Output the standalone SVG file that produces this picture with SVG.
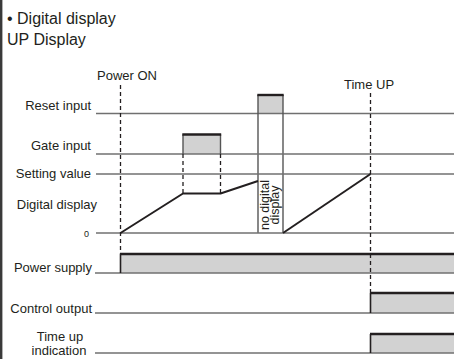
<svg xmlns="http://www.w3.org/2000/svg" width="454" height="359" viewBox="0 0 454 359">
<style>
text{font-family:"Liberation Sans",Arial,sans-serif;fill:#231f20}
.t{font-size:16px}
.l{font-size:13px;text-anchor:end}
.g{stroke:#707070;stroke-width:1.4;fill:none}
.gs{stroke:#555;stroke-width:1.4;fill:none}
.d{stroke:#231f20;stroke-width:1.3;stroke-dasharray:4 3;fill:none}
.top{stroke:#231f20;stroke-width:2.4;fill:none}
.fill{fill:#d2d2d2;stroke:none}
.tr{stroke:#231f20;stroke-width:2;fill:none;stroke-linejoin:round}
</style>
<rect x="0" y="0" width="454" height="359" fill="#fff"/>
<line x1="1.2" y1="0" x2="1.2" y2="359" stroke="#3a3a3a" stroke-width="2.4"/>
<g id="title">
<text class="t" x="7" y="24">• Digital display</text>
<text class="t" x="7" y="44.5">UP Display</text>
</g>
<g id="markers">
<text x="97" y="80" font-size="13">Power ON</text>
<text x="344" y="89" font-size="13">Time UP</text>
</g>
<g id="labels">
<text class="l" x="91" y="110">Reset input</text>
<text class="l" x="91" y="150">Gate input</text>
<text class="l" x="91" y="178">Setting value</text>
<text class="l" x="97" y="209">Digital display</text>
<text x="89" y="236.5" font-size="9" text-anchor="end">0</text>
<text class="l" x="92" y="272">Power supply</text>
<text class="l" x="92" y="313">Control output</text>
<text x="60" y="341" font-size="13" text-anchor="middle">Time up</text>
<text x="59" y="355" font-size="13" text-anchor="middle">indication</text>
</g>
<g id="reset-input">
<rect class="fill" x="258" y="95" width="25" height="18.5"/>
<line class="g" x1="96" y1="113.5" x2="454" y2="113.5"/>
<line class="gs" x1="258" y1="95" x2="258" y2="233"/>
<line class="gs" x1="283" y1="95" x2="283" y2="233"/>
<line class="top" x1="257.3" y1="95" x2="283.7" y2="95"/>
</g>
<g id="gate-input">
<rect class="fill" x="183" y="134.5" width="37.5" height="19.5"/>
<line class="g" x1="96" y1="154" x2="454" y2="154"/>
<line class="gs" x1="183" y1="134.5" x2="183" y2="154"/>
<line class="gs" x1="220.5" y1="134.5" x2="220.5" y2="154"/>
<line class="top" x1="182.3" y1="134.5" x2="221.2" y2="134.5"/>
</g>
<g id="setting-value">
<line class="g" x1="96" y1="174" x2="454" y2="174"/>
</g>
<g id="zero-line">
<line class="g" x1="96" y1="233" x2="454" y2="233"/>
</g>
<g id="no-display">
<text transform="translate(268.5,205) rotate(-90)" font-size="12.5" text-anchor="middle">no digital</text>
<text transform="translate(279,205) rotate(-90)" font-size="12.5" text-anchor="middle">display</text>
</g>
<g id="power-supply">
<rect class="fill" x="120" y="254" width="334" height="19"/>
<line class="g" x1="95" y1="273" x2="454" y2="273"/>
<line class="top" x1="120" y1="254" x2="454" y2="254"/>
<line x1="120.5" y1="254" x2="120.5" y2="273" stroke="#231f20" stroke-width="1.6"/>
</g>
<g id="control-output">
<rect class="fill" x="370" y="293" width="84" height="20"/>
<line class="g" x1="95" y1="313" x2="454" y2="313"/>
<line class="top" x1="370" y1="293" x2="454" y2="293"/>
<line x1="370.5" y1="293" x2="370.5" y2="313" stroke="#231f20" stroke-width="1.6"/>
</g>
<g id="time-up-indication">
<rect class="fill" x="370" y="334" width="84" height="19"/>
<line class="g" x1="95" y1="353" x2="454" y2="353"/>
<line class="top" x1="370" y1="334" x2="454" y2="334"/>
<line x1="370.5" y1="334" x2="370.5" y2="353" stroke="#231f20" stroke-width="1.6"/>
</g>
<g id="connectors">
<line class="d" x1="120.5" y1="85" x2="120.5" y2="254"/>
<line class="d" x1="370.5" y1="93" x2="370.5" y2="293"/>
<line class="d" x1="183" y1="154" x2="183" y2="193.5"/>
<line class="d" x1="220.5" y1="154" x2="220.5" y2="193.5"/>
<polyline class="tr" points="120.5,233 183,193.5 220.5,193.5 258,181"/>
<polyline class="tr" points="283,233 370.5,174"/>
</g>
</svg>
